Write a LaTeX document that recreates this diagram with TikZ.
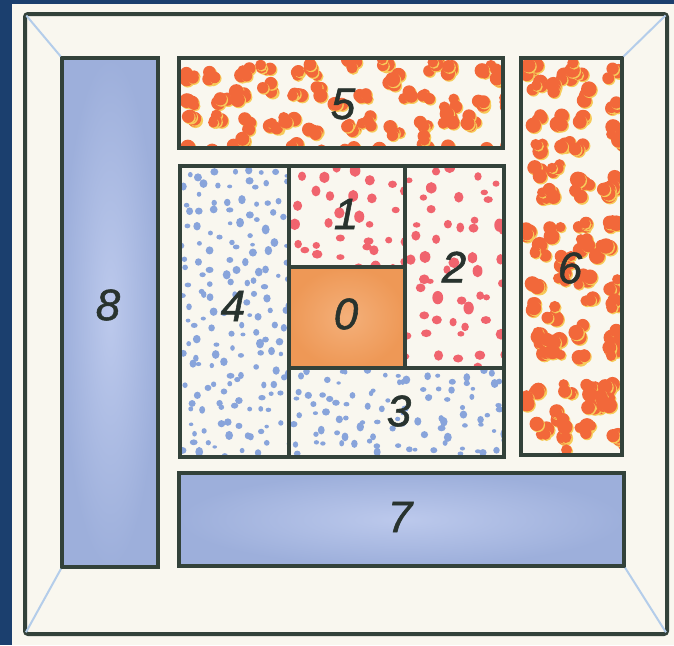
\documentclass[tikz,border=0pt]{standalone}
\usepackage{fontspec}
\setsansfont{Liberation Sans}
\newfontfamily\numfont{Liberation Sans}[FakeBold=1.2]
\usetikzlibrary{fit}
\definecolor{bgblue}{HTML}{1B3F6E}
\definecolor{cream}{HTML}{F9F7EF}
\definecolor{lineC}{HTML}{33423A}
\definecolor{numC}{HTML}{28332E}
\definecolor{diagC}{HTML}{B4CDEA}
\definecolor{blueFill}{HTML}{9DAFDB}
\definecolor{blueLight}{HTML}{BCC9EC}
\definecolor{orangeFill}{HTML}{EE9856}
\definecolor{orangeLight}{HTML}{F4B07A}
\definecolor{blobC}{HTML}{F2683A}
\definecolor{blobShadow}{HTML}{F7CC5A}
\definecolor{pinkC}{HTML}{F0646E}
\definecolor{dotBlue}{HTML}{88A4DB}
\tikzset{
  frame/.style={draw=lineC, line width=4pt, inner sep=0pt, outer sep=0pt},
  box/.style={draw=lineC, line width=3.8pt, inner sep=0pt, outer sep=0pt},
  num/.style={font=\numfont\itshape\fontsize{44}{46}\selectfont, text=numC, inner sep=0pt},
  diag/.style={draw=diagC, line width=2pt, shorten <=2pt, shorten >=2pt}
}
% dots: x1 y1 x2 y2 step colour rmin rmax
\newcommand\speckle[8]{%
  \begin{scope}
    \clip (#1,#2) rectangle (#3,#4);
    \pgfmathsetmacro\sxb{#1+#5}\pgfmathsetmacro\syb{#2+#5}
    \foreach \gx in {#1,\sxb,...,#3}{
      \foreach \gy in {#2,\syb,...,#4}{
        \pgfmathsetmacro\px{\gx+rnd*#5}
        \pgfmathsetmacro\py{\gy+rnd*#5}
        \pgfmathsetmacro\rr{#7+rnd*(#8-#7)}
        \pgfmathsetmacro\rb{\rr*(0.7+0.6*rnd)}
        \fill[#6] (\px,\py) ellipse[x radius=\rr, y radius=\rb];
      }}
  \end{scope}}
% blobs: x1 y1 x2 y2 step rmin rmax
\newcommand\blobs[7]{%
  \begin{scope}
    \clip (#1,#2) rectangle (#3,#4);
    \pgfmathsetmacro\sxb{#1+#5}\pgfmathsetmacro\syb{#2+#5}
    \foreach \gx in {#1,\sxb,...,#3}{
      \foreach \gy in {#2,\syb,...,#4}{
        \pgfmathsetmacro\px{\gx+4+rnd*(#5-8)}
        \pgfmathsetmacro\py{\gy+4+rnd*(#5-8)}
        \foreach \k in {1,2,3,4}{
          \pgfmathsetmacro\qx{\px+(rnd-0.5)*#7*1.6}
          \pgfmathsetmacro\qy{\py+(rnd-0.5)*#7*1.6}
          \pgfmathsetmacro\rr{#6+rnd*(#7-#6)}
          \fill[blobShadow] (\qx+1.2,\qy+1.2) circle[radius=\rr];
          \fill[blobC] (\qx,\qy) circle[radius=\rr];
        }
      }}
  \end{scope}}
\begin{document}
\begin{tikzpicture}[x=1pt,y=-1pt]
\useasboundingbox (0,0) rectangle (674,645);
\fill[bgblue] (0,0) rectangle (674,645);
\fill[cream] (12,4) rectangle (674,645);
\pgfmathsetseed{5}
% fills
\shade[inner color=blueLight, outer color=blueFill] (62,58) rectangle (158,567);
\shade[inner color=blueLight, outer color=blueFill] (179,473) rectangle (624,566);
\shade[inner color=orangeLight, outer color=orangeFill] (289,267) rectangle (405,368);
\blobs{179}{58}{503}{148}{26}{5}{7.5}
\blobs{521}{58}{622}{455}{26}{5}{8}
\speckle{289}{166}{405}{267}{20}{pinkC}{3.5}{5.5}
\speckle{405}{166}{504}{368}{20}{pinkC}{3.5}{5.5}
\speckle{180}{166}{289}{457}{14}{dotBlue}{2.2}{4}
\speckle{289}{368}{504}{457}{14}{dotBlue}{2.2}{4}
% frames
\node[frame, rounded corners=3pt, fit={(25,14) (667,634)}] (outer) {};
\node[box, fit={(62,58) (158,567)}] (b8) {};
\node[box, fit={(179,58) (503,148)}] (b5) {};
\node[box, fit={(521,58) (622,455)}] (b6) {};
\node[box, fit={(180,166) (289,457)}] (b4) {};
\node[box, fit={(289,166) (405,267)}] (b1) {};
\node[box, fit={(289,267) (405,368)}] (b0) {};
\node[box, fit={(405,166) (504,368)}] (b2) {};
\node[box, fit={(289,368) (504,457)}] (b3) {};
\node[box, fit={(179,473) (624,566)}] (b7) {};
% diagonals
\draw[diag] (outer.north west) -- (b8.north west);
\draw[diag] (outer.south west) -- (b8.south west);
\draw[diag] (outer.north east) -- (b6.north east);
\draw[diag] (outer.south east) -- (b7.south east);
% labels
\node[num] (l8) at (108,305) {8};
\node[num] (l5) at (343,104) {5};
\node[num] (l1) at (346,214) {1};
\node[num] (l2) at (454,267) {2};
\node[num] (l6) at (570,268) {6};
\node[num] (l4) at (233,306) {4};
\node[num] (l0) at (346,314) {0};
\node[num] (l3) at (399,411) {3};
\node[num] (l7) at (400,517) {7};
\end{tikzpicture}
\end{document}
